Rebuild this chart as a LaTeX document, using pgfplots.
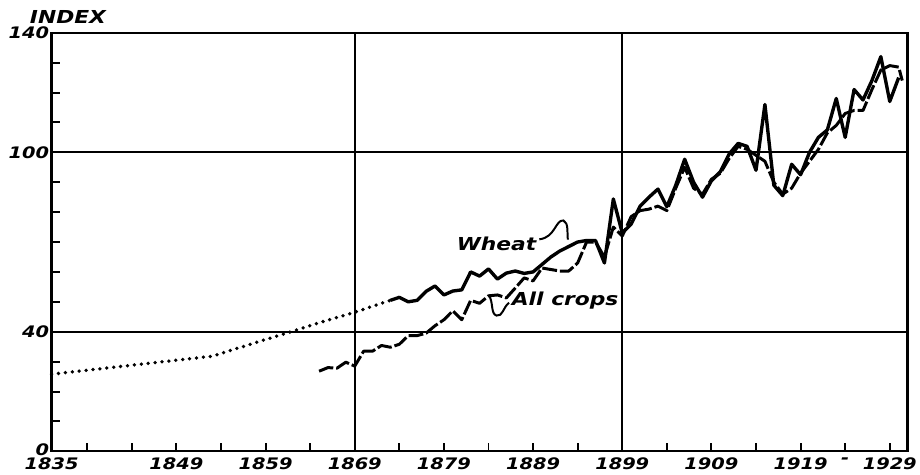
\documentclass[border=0pt]{standalone}
\usepackage{fontspec}
\setmainfont{DejaVu Sans}[FakeStretch=1.22]
\usepackage{pgfplots}
\pgfplotsset{compat=1.18}
\begin{document}
\begin{tikzpicture}
\begin{axis}[
  width=863pt, height=422pt, scale only axis,
  xmin=1835, xmax=1931, ymin=0, ymax=140,
  axis line style={line width=2.4pt},
  tick align=inside, major tick length=8pt,
  tick style={line width=2pt, black},
  xtick pos=bottom, ytick pos=left,
  xtick={1835,1839,1844,1849,1854,1859,1864,1869,1874,1879,1884,1889,1894,1899,1904,1909,1914,1919,1924,1929},
  xticklabels={1835,,,1849,,1859,,1869,,1879,,1889,,1899,,1909,,1919,-,1929},
  ytick={0,10,...,140},
  yticklabels={\raisebox{4pt}{0},,,,40,,,,,,100,,,,140},
  ticklabel style={font=\fontsize{16}{18}\selectfont\bfseries\itshape},
  yticklabel style={xshift=1pt},
  xticklabel style={yshift=-3pt},
  major grid style={line width=2pt, black},
  extra x ticks={1869,1899}, extra x tick labels={},
  extra x tick style={grid=major},
  extra y ticks={40,100}, extra y tick labels={},
  extra y tick style={grid=major},
  clip=false,
]
% Wheat, estimated (dotted)
\addplot[black, line width=3.8pt, line cap=round, dash pattern=on 0pt off 7pt] coordinates {
(1835,25.8)(1844,28.8)(1853,31.8)(1856,34.6)(1859,37.4)(1862,40.1)(1865,43)(1868,45.6)(1870,47.5)(1873,50.5)};
% Wheat
\addplot[black, line width=3.4pt, line join=round] coordinates {
(1873,50.5)(1874,51.5)(1875,50)(1876,50.5)(1877,53.5)(1878,55.3)(1879,52.3)(1880,53.6)(1881,54)(1882,60)(1883,58.6)(1884,61)(1885,57.6)(1886,59.6)(1887,60.3)(1888,59.5)(1889,60)(1890,62.5)(1891,65)(1892,67)(1893,68.5)(1894,70)(1895,70.5)(1896,70.5)(1897,63)(1898,84.4)(1899,73)(1900,76)(1901,82)(1902,85)(1903,87.7)(1904,81.8)(1905,89)(1906,97.7)(1907,90)(1908,85)(1909,90.5)(1910,93.5)(1911,99.5)(1912,103)(1913,102)(1914,94)(1915,116)(1916,89)(1917,85.5)(1918,96)(1919,92.5)(1920,100)(1921,105)(1922,107.5)(1923,118)(1924,105)(1925,121)(1926,117.5)(1927,124)(1928,132)(1929,117)(1930,125)};
% All crops
\addplot[black, line width=3pt, line join=round, dash pattern=on 15pt off 3pt] coordinates {
(1865,26.8)(1866,28)(1867,27.8)(1868,29.8)(1869,28.5)(1870,33.5)(1871,33.5)(1872,35.4)(1873,34.8)(1874,35.8)(1875,38.7)(1876,38.7)(1877,39.5)(1878,42)(1879,44)(1880,47)(1881,44)(1882,50.5)(1883,49.5)(1884,52)(1885,52.3)(1886,51.3)(1887,54.6)(1888,58)(1889,57)(1890,61.3)(1891,60.8)(1892,60.3)(1893,60.3)(1894,63)(1895,70)(1896,70)(1897,65)(1898,75)(1899,72)(1900,78.5)(1901,80.5)(1902,81)(1903,82)(1904,80.5)(1905,88)(1906,95)(1907,88)(1908,86)(1909,91)(1910,93)(1911,98)(1912,102)(1913,101)(1914,99)(1915,97)(1916,90)(1917,86)(1918,88)(1919,93)(1920,97)(1921,101)(1922,106.5)(1923,109)(1924,113)(1925,114)(1926,114)(1927,121)(1928,127.5)(1929,129)(1930,128.5)(1930.4,124)};
% labels and leaders
\node[font=\fontsize{18}{20}\selectfont\bfseries\itshape] at (axis cs:1884.9,69.5) {Wheat};
\draw[line width=2pt] (axis cs:1889.7,70.9) .. controls (axis cs:1891.5,71.5) and (axis cs:1891.5,77.5) .. (axis cs:1892.4,77.2) .. controls (axis cs:1893,76.5) and (axis cs:1892.8,73) .. (axis cs:1892.9,70.8);
\node[font=\fontsize{18}{20}\selectfont\bfseries\itshape, anchor=west, inner sep=0pt] at (axis cs:1886.6,50.3) {All crops};
\draw[line width=2pt] (axis cs:1886.3,49.7) .. controls (axis cs:1885.6,48) and (axis cs:1885.6,45) .. (axis cs:1884.9,45.4) .. controls (axis cs:1884.2,46) and (axis cs:1884.6,50) .. (axis cs:1884,52.3);
\end{axis}
\node[font=\fontsize{18}{20}\selectfont\bfseries\itshape, anchor=south west, inner sep=0pt] at ([xshift=-22pt,yshift=9pt]current axis.north west) {INDEX};
\path ([xshift=-52pt,yshift=-23pt]current axis.south west) rectangle ([xshift=5pt,yshift=33pt]current axis.north east);
\end{tikzpicture}
\end{document}
